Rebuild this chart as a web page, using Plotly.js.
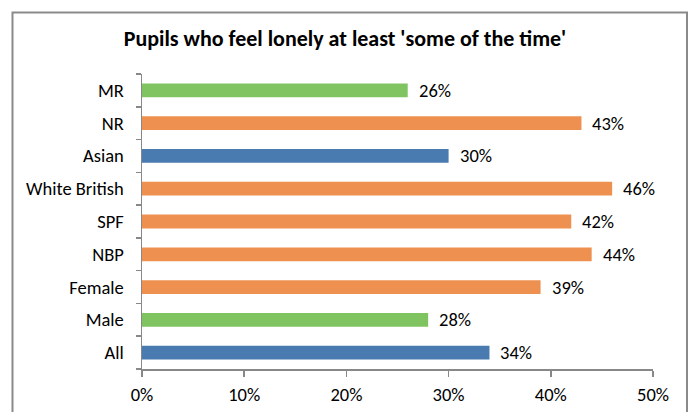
<!DOCTYPE html>
<html>
<head>
<meta charset="utf-8">
<script src="https://cdn.plot.ly/plotly-3.0.1.min.js"></script>
<style>html,body{margin:0;padding:0;background:#fff}#chart{width:690px;height:412px}</style>
</head>
<body>
<div id="chart"></div>
<script>
const categories = ["All", "Male", "Female", "NBP", "SPF", "White British", "Asian", "NR", "MR"];
const values = [34, 28, 39, 44, 42, 46, 30, 43, 26];
const barColors = ["#4A7BB0", "#80C462", "#EE9150", "#EE9150", "#EE9150", "#EE9150", "#4A7BB0", "#EE9150", "#80C462"];
const xTickVals = [0, 10, 20, 30, 40, 50];
const xTickText = ["0%", "10%", "20%", "30%", "40%", "50%"];

const font = "Calibri, Carlito, Lato, 'Open Sans', sans-serif";

const trace = {
  type: "bar",
  orientation: "h",
  y: categories,
  x: values,
  marker: {color: barColors},
  hoverinfo: "none"
};

const annotations = categories.map((c, i) => ({
  x: values[i], y: c, xref: "x", yref: "y",
  text: values[i] + "%", showarrow: false,
  xanchor: "left", xshift: 9,
  font: {family: font, size: 18.5, color: "#000"}
}));

const layout = {
  width: 690, height: 412,
  margin: {l: 142, r: 37, t: 74, b: 43},
  paper_bgcolor: "#fff", plot_bgcolor: "#fff",
  showlegend: false,
  bargap: 0.58,
  title: {text: "Pupils who feel lonely at least 'some of the time'",
          font: {family: font, size: 22, color: "#000", weight: "bold"},
          x: 0.5, xanchor: "center", y: 1 - 38/412, yanchor: "middle"},
  xaxis: {
    range: [0, 50], tickvals: xTickVals, ticktext: xTickText,
    showgrid: false, zeroline: false,
    showline: true, linecolor: "#888", linewidth: 1.5,
    ticks: "outside", ticklen: 6, tickcolor: "#888", tickwidth: 1.5,
    tickfont: {family: font, size: 18.5, color: "#000"}, fixedrange: true,
    ticklabelstandoff: 2
  },
  yaxis: {
    showgrid: false, zeroline: false,
    showline: true, linecolor: "#888", linewidth: 1.5,
    ticks: "outside", ticklen: 5, tickcolor: "#888", tickwidth: 1.5,
    tickson: "boundaries",
    tickfont: {family: font, size: 18.5, color: "#000"}, fixedrange: true,
    ticklabelstandoff: 13
  },
  annotations: annotations,
  shapes: [{
    type: "rect", xref: "paper", yref: "paper",
    x0: (12.5 - 142) / 511, x1: (687 - 142) / 511,
    y0: -0.3, y1: (369 - 12.5) / 295,
    line: {color: "#8a8a8a", width: 2}, fillcolor: "rgba(0,0,0,0)", layer: "below"
  }]
};

Plotly.newPlot("chart", [trace], layout, {displayModeBar: false, staticPlot: true});
</script>
</body>
</html>
